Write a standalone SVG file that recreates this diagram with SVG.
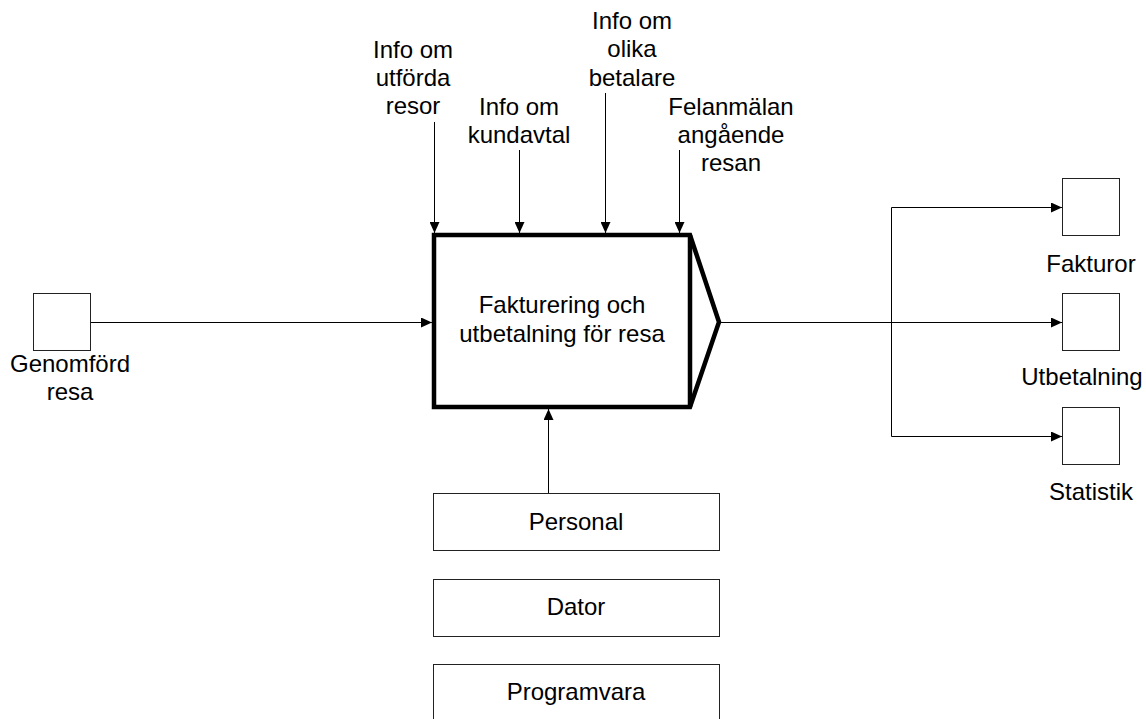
<svg xmlns="http://www.w3.org/2000/svg" width="1146" height="719" viewBox="0 0 1146 719">
<defs>
<marker id="arr" markerUnits="userSpaceOnUse" markerWidth="11" markerHeight="10" refX="11" refY="5" orient="auto">
<path d="M0,0 L11,5 L0,10 z" fill="#000"/>
</marker>
<style>
text{font-family:"Liberation Sans",Arial,sans-serif;font-size:24px;fill:#000;text-anchor:middle}
.box{fill:#fff;stroke:#222;stroke-width:1}
.main{fill:#fff;stroke:#000;stroke-width:4.5;stroke-linejoin:miter}
.con{fill:none;stroke:#000;stroke-width:1}
</style>
</defs>
<rect width="1146" height="719" fill="#fff"/>
<g id="connectors">
<line class="con" x1="90" y1="322.5" x2="432" y2="322.5" marker-end="url(#arr)"/>
<line class="con" x1="434.5" y1="122" x2="434.5" y2="233" marker-end="url(#arr)"/>
<line class="con" x1="519.5" y1="150" x2="519.5" y2="233" marker-end="url(#arr)"/>
<line class="con" x1="605.5" y1="93" x2="605.5" y2="233" marker-end="url(#arr)"/>
<line class="con" x1="679.5" y1="150" x2="679.5" y2="233" marker-end="url(#arr)"/>
<line class="con" x1="548.5" y1="493" x2="548.5" y2="409" marker-end="url(#arr)"/>
<line class="con" x1="720" y1="322.5" x2="1062" y2="322.5" marker-end="url(#arr)"/>
<path class="con" d="M891.5,207.5 H1062" marker-end="url(#arr)"/>
<path class="con" d="M891.5,207.5 V436.5 H1062" marker-end="url(#arr)"/>
</g>
<g id="main">
<polygon class="main" points="434,235 690,235 719,322 690,407 434,407"/>
<line x1="690" y1="235" x2="690" y2="407" stroke="#000" stroke-width="4.5"/>
<text x="562" y="313">Fakturering och</text>
<text x="562" y="342">utbetalning för resa</text>
</g>
<g id="genomford">
<rect class="box" x="33.5" y="293.5" width="57" height="57"/>
<text x="70" y="372">Genomförd</text>
<text x="70" y="400">resa</text>
</g>
<g id="label-utforda">
<text x="413" y="58">Info om</text>
<text x="413" y="86">utförda</text>
<text x="413" y="114">resor</text>
</g>
<g id="label-kundavtal">
<text x="519" y="115">Info om</text>
<text x="519" y="143">kundavtal</text>
</g>
<g id="label-betalare">
<text x="632" y="29">Info om</text>
<text x="632" y="57">olika</text>
<text x="632" y="86">betalare</text>
</g>
<g id="label-felanmalan">
<text x="731" y="115">Felanmälan</text>
<text x="731" y="143">angående</text>
<text x="731" y="171">resan</text>
</g>
<g id="personal">
<rect class="box" x="433.5" y="493.5" width="286" height="57"/>
<text x="576" y="530">Personal</text>
</g>
<g id="dator">
<rect class="box" x="433.5" y="579.5" width="286" height="57"/>
<text x="576" y="615">Dator</text>
</g>
<g id="programvara">
<rect class="box" x="433.5" y="664.5" width="286" height="57"/>
<text x="576" y="700">Programvara</text>
</g>
<g id="fakturor">
<rect class="box" x="1062.5" y="178.5" width="57" height="57"/>
<text x="1091" y="272">Fakturor</text>
</g>
<g id="utbetalning">
<rect class="box" x="1062.5" y="293.5" width="57" height="57"/>
<text x="1082" y="385">Utbetalning</text>
</g>
<g id="statistik">
<rect class="box" x="1062.5" y="407.5" width="57" height="57"/>
<text x="1091" y="500">Statistik</text>
</g>
</svg>
